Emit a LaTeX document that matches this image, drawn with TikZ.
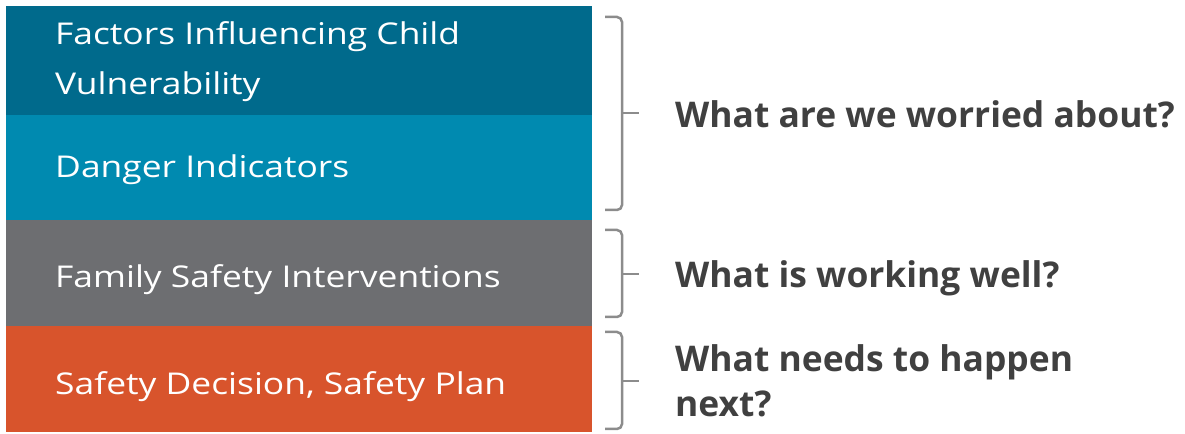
\documentclass[tikz,border=0pt]{standalone}
\usepackage{fontspec}
\setmainfont{Open Sans}
\newfontfamily\bandfont[FakeStretch=1.18]{Open Sans}
\definecolor{tealdark}{HTML}{006A8C}
\definecolor{tealmid}{HTML}{008AB0}
\definecolor{slate}{HTML}{6D6E71}
\definecolor{rust}{HTML}{D8542C}
\definecolor{bracketgray}{HTML}{8C8C8C}
\definecolor{labelgray}{HTML}{404040}
\tikzset{
  band/.style={anchor=north west, inner sep=0pt, outer sep=0pt,
    minimum width=586bp, minimum height=#1},
  bandtext/.style={anchor=base west, inner sep=0pt, text=white,
    font=\bandfont\fontsize{30bp}{50bp}\selectfont, align=left},
  question/.style={anchor=base west, inner sep=0pt, text=labelgray,
    font=\fontsize{35.4bp}{45bp}\selectfont\bfseries, align=left},
  brace/.style={draw=bracketgray, line width=2.5bp, rounded corners=5bp}
}
\begin{document}
\begin{tikzpicture}[x=1bp,y=-1bp]
\useasboundingbox (0,0) rectangle (1185,434);
% coloured bands
\node[band=109bp, fill=tealdark] (b1) at (6,6) {};
\node[band=105bp, fill=tealmid]  (b2) at (6,115) {};
\node[band=106bp, fill=slate]    (b3) at (6,220) {};
\node[band=106bp, fill=rust]     (b4) at (6,326) {};
% band captions (base anchor sits on the last line)
\node[bandtext] (t1) at (55,95) {Factors Influencing Child\\Vulnerability};
\node[bandtext] (t2) at (55,178) {Danger Indicators};
\node[bandtext] (t3) at (55,288) {Family Safety Interventions};
\node[bandtext] (t4) at (55,395) {Safety Decision, Safety Plan};
% brackets
\draw[brace] (605,17) -- (622,17) -- (622,210) -- (605,210);
\draw[brace] (622,113) -- (639,113);
\draw[brace] (605,230) -- (622,230) -- (622,317) -- (605,317);
\draw[brace] (622,274) -- (639,274);
\draw[brace] (605,332) -- (622,332) -- (622,429) -- (605,429);
\draw[brace] (622,381) -- (639,381);
% questions
\node[question] (q1) at (675,128) {What are we worried about?};
\node[question] (q2) at (675,288) {What is working well?};
\node[question] (q3) at (675,417) {What needs to happen\\next?};
\end{tikzpicture}
\end{document}
